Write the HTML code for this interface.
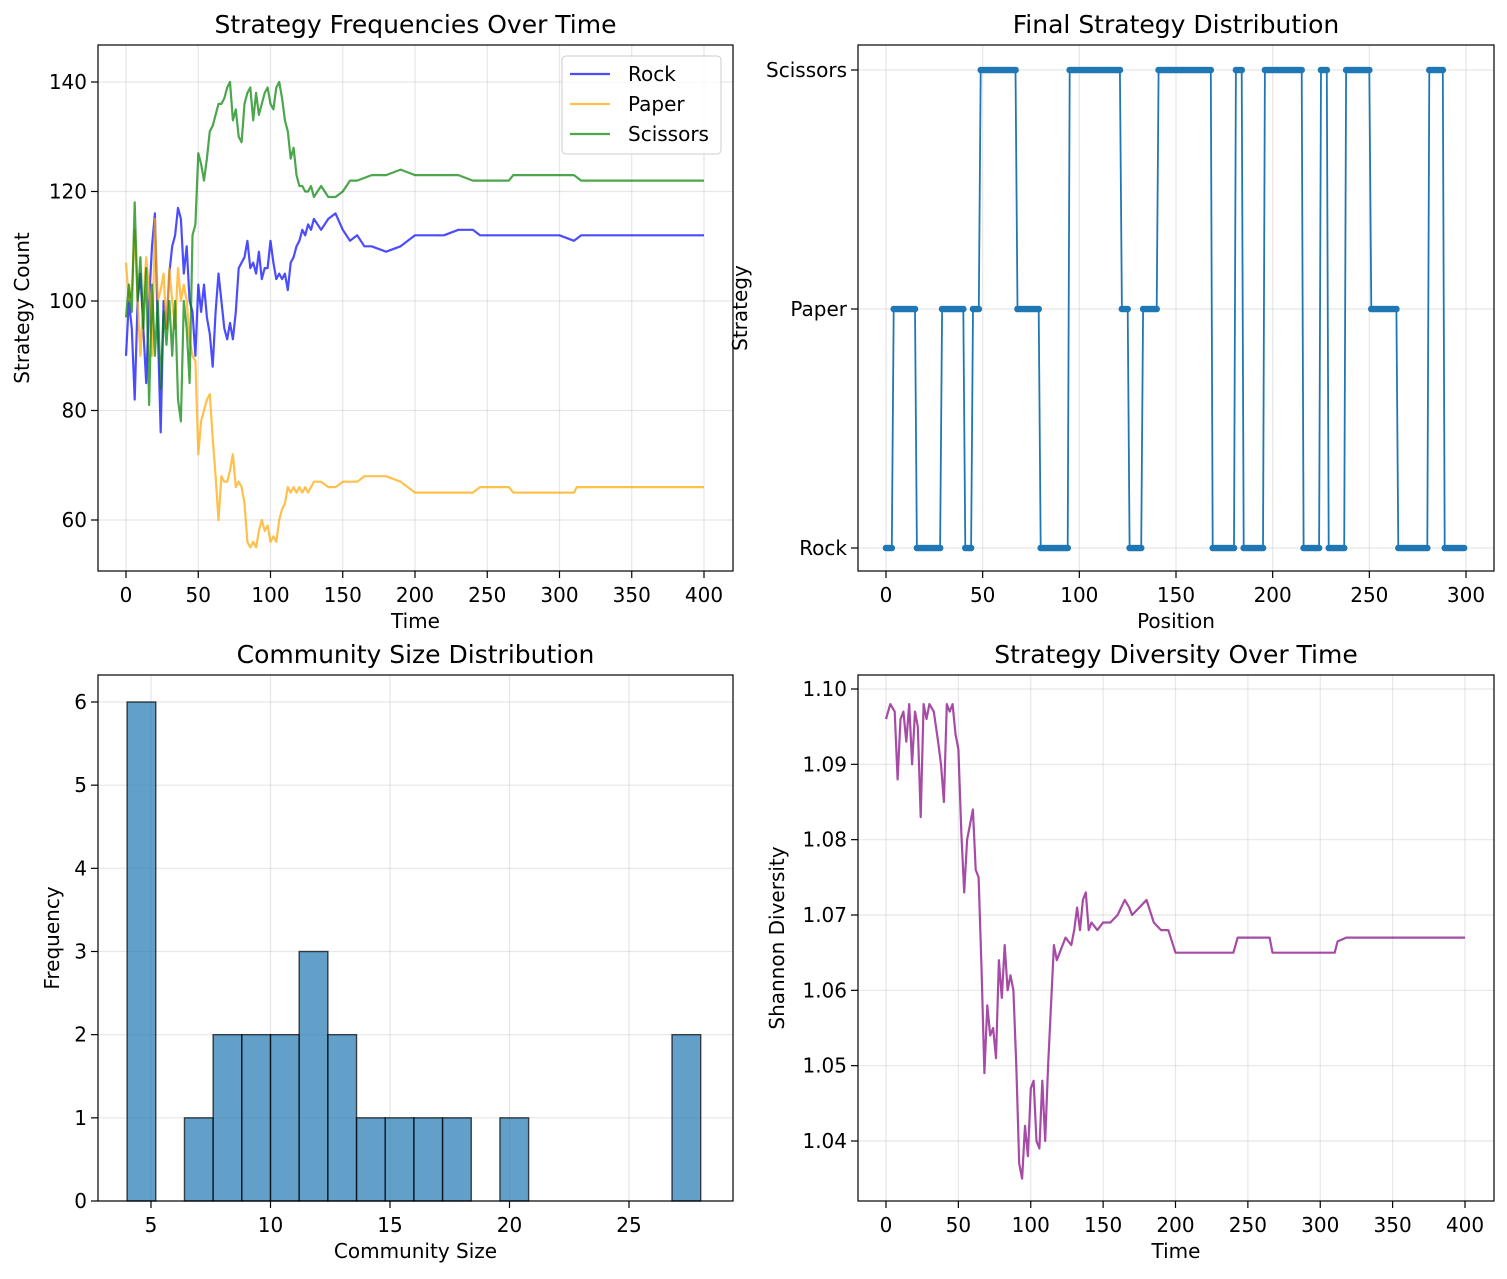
<!DOCTYPE html>
<html><head><meta charset="utf-8"><style>
body{margin:0;background:#fff;}
svg{display:block;font-family:"DejaVu Sans","Liberation Sans",sans-serif;}
</style></head><body>
<svg id="fig" width="1507" height="1279" viewBox="0 0 1507 1279" xmlns="http://www.w3.org/2000/svg"></svg>
<script>
// ---- Data: Strategy frequencies ----
const freqTimes = [0,2,4,6,8,10,12,14,16,18,20,22,24,26,28,30,32,34,36,38,40,42,44,46,48,50,52,54,56,58,60,62,64,66,68,70,72,74,76,78,80,82,84,86,88,90,92,94,96,98,100,102,104,106,108,110,112,114,116,118,120,122,124,126,128,130];
const rockHead = [90,100,95,82,100,105,95,85,100,110,116,95,76,100,95,105,110,112,117,115,105,110,100,98,90,103,98,103,97,94,88,98,105,100,95,93,96,93,98,106,107,108,111,106,107,105,109,104,106,106,111,107,104,105,104,105,102,107,108,110,111,113,112,114,113,115];
const scissorsHead = [97,103,98,118,100,108,95,106,81,103,90,100,84,98,92,100,90,100,82,78,100,95,85,112,114,127,125,122,126,131,132,134,136,136,137,139,140,133,135,130,129,136,138,139,133,138,134,136,138,139,136,135,139,140,137,133,131,126,128,123,121,121,120,120,121,119];
const paperHead = [107,100,102,113,100,90,100,108,102,90,115,100,102,105,95,106,100,95,106,100,103,100,93,90,89,72,78,80,82,83,75,68,60,68,67,67,69,72,66,67,66,63,56,55,56,55,58,60,58,59,56,57,56,60,62,63,66,65,66,65,66,65,66,65,66,67];
const rockTailT = [135,140,145,150,155,160,165,170,180,190,200,210,220,230,240,245,300,310,315,400];
const rockTail = [113,115,116,113,111,112,110,110,109,110,112,112,112,113,113,112,112,111,112,112];
const scissorsTailT = [135,140,145,150,155,160,170,180,190,200,210,220,230,240,265,268,310,315,400];
const scissorsTail = [121,119,119,120,122,122,123,123,124,123,123,123,123,122,122,123,123,122,122];
const paperTailT = [135,140,145,150,155,160,165,170,180,190,195,200,240,245,265,268,310,312,400];
const paperTail = [67,66,66,67,67,67,68,68,68,67,66,65,65,66,66,65,65,66,66];
// ---- Data: final strategy (run-length) ----
const strategyLabels = ["Rock","Paper","Scissors"];
const runValues = [0,1,0,1,0,1,2,1,0,2,1,0,1,2,0,2,0,2,0,2,0,2,1,0,2,0];
const runLengths = [4,12,13,12,4,4,19,12,15,27,4,7,8,28,12,4,11,20,9,4,9,13,14,16,8,11];
// ---- Data: histogram ----
const histCounts = [6,0,1,2,2,2,3,2,1,1,1,1,0,1,0,0,0,0,0,2];
const histMin = 4, histMax = 28;
// ---- Data: diversity ----
const divTimes = [0,3,6,8,10,12,14,16,18,20,22,24,26,28,30,33,36,38,40,42,44,46,48,50,52,54,56,58,60,62,64,66,68,70,72,74,76,78,80,82,84,86,88,90,92,94,96,98,100,102,104,106,108,110,112,114,116,118,120,124,128,130,132,134,136,138,140,142,146,150,155,160,165,168,170,175,180,185,190,195,200,210,220,240,243,265,267,310,312,318,400];
const divValues = [1.096,1.098,1.097,1.088,1.096,1.097,1.093,1.098,1.090,1.097,1.095,1.083,1.098,1.096,1.098,1.097,1.093,1.090,1.085,1.098,1.097,1.098,1.094,1.092,1.081,1.073,1.080,1.082,1.084,1.076,1.075,1.063,1.049,1.058,1.054,1.055,1.051,1.064,1.059,1.066,1.060,1.062,1.060,1.050,1.037,1.035,1.042,1.038,1.047,1.048,1.040,1.039,1.048,1.040,1.050,1.058,1.066,1.064,1.065,1.067,1.066,1.068,1.071,1.068,1.072,1.073,1.068,1.069,1.068,1.069,1.069,1.070,1.072,1.071,1.070,1.071,1.072,1.069,1.068,1.068,1.065,1.065,1.065,1.065,1.067,1.067,1.065,1.065,1.0665,1.067,1.067];

const NS="http://www.w3.org/2000/svg";
const fig=document.getElementById('fig');
const TICK_FS=20, LABEL_FS=20, TITLE_FS=25;
function el(tag,attrs,parent,text){const e=document.createElementNS(NS,tag);for(const k in attrs)e.setAttribute(k,attrs[k]);if(text!==undefined)e.textContent=text;(parent||fig).appendChild(e);return e;}
function lin(d0,d1,r0,r1){return v=>r0+(v-d0)*(r1-r0)/(d1-d0);}

function makeAxes(o){
  const g=el('g',{});
  
  
  const {L,T,R,B}=o;
  o.xt.forEach(t=>{const x=o.sx(t);const l=el('line',{x1:x,x2:x,y1:T,y2:B,stroke:'#b0b0b0','stroke-opacity':0.3,'stroke-width':1.2},g);});
  o.yt.forEach(t=>{const y=o.sy(t);const l=el('line',{x1:L,x2:R,y1:y,y2:y,stroke:'#b0b0b0','stroke-opacity':0.3,'stroke-width':1.2},g);});
  o.xt.forEach((t,i)=>{const x=o.sx(t);el('line',{x1:x,x2:x,y1:B,y2:B+7,stroke:'#000','stroke-width':1.2},g);const tx=el('text',{x:x,y:B+31,'font-size':TICK_FS,'text-anchor':'middle',fill:'#000'},g,o.xl?o.xl[i]:String(t));});
  o.yt.forEach((t,i)=>{const y=o.sy(t);el('line',{x1:L-7,x2:L,y1:y,y2:y,stroke:'#000','stroke-width':1.2},g);const tx=el('text',{x:L-11,y:y+7,'font-size':TICK_FS,'text-anchor':'end',fill:'#000'},g,o.yl?o.yl[i]:String(t));});
  const ti=el('text',{x:(L+R)/2,y:T-12,'font-size':TITLE_FS,'text-anchor':'middle'},g,o.title);
  const xa=el('text',{x:(L+R)/2,y:B+57,'font-size':LABEL_FS,'text-anchor':'middle'},g,o.xlabel);
  const ya=el('text',{x:o.ylx,y:(T+B)/2,'font-size':LABEL_FS,'text-anchor':'middle',transform:`rotate(-90 ${o.ylx} ${(T+B)/2})`},g,o.ylabel);
  const plot=el('g',{},g);
  return {g,plot};
}
function frame(o,g){el('rect',{x:o.L,y:o.T,width:o.R-o.L,height:o.B-o.T,fill:'none',stroke:'#000','stroke-width':1.2},g);}
function poly(g,xs,ys,sx,sy,color,op,name,w){
  const pts=xs.map((x,i)=>sx(x).toFixed(1)+','+sy(ys[i]).toFixed(1)).join(' ');
  const p=el('polyline',{points:pts,fill:'none',stroke:color,'stroke-opacity':op,'stroke-width':w||2.2,'stroke-linejoin':'round'},g);
  return p;
}

// ---- Axes 1 ----
{
  const o={L:98,T:45,R:733,B:571,name:'strategy-frequencies-chart',title:'Strategy Frequencies Over Time',xlabel:'Time',ylabel:'Strategy Count',ylx:29};
  o.sx=lin(0,400,126,704);o.sy=lin(60,140,520,82);
  o.xt=[0,50,100,150,200,250,300,350,400];o.yt=[60,80,100,120,140];
  const {g,plot}=makeAxes(o);
  const cat=(a,b)=>a.concat(b);
  poly(plot,cat(freqTimes,rockTailT),cat(rockHead,rockTail),o.sx,o.sy,'#0000ff',0.7,'rock-line');
  poly(plot,cat(freqTimes,paperTailT),cat(paperHead,paperTail),o.sx,o.sy,'#ffa500',0.7,'paper-line');
  poly(plot,cat(freqTimes,scissorsTailT),cat(scissorsHead,scissorsTail),o.sx,o.sy,'#008000',0.7,'scissors-line');
  frame(o,g);
  const lg=el('g',{},g);
  el('rect',{x:562,y:56,width:159,height:98,rx:4,fill:'#fff','fill-opacity':0.8,stroke:'#ccc'},lg);
  [['Rock','#0000ff'],['Paper','#ffa500'],['Scissors','#008000']].forEach((d,i)=>{
    const y=74+i*30;
    const e=el('g',{},lg);
    el('line',{x1:570,x2:610,y1:y,y2:y,stroke:d[1],'stroke-opacity':0.7,'stroke-width':2.2},e);
    el('text',{x:628,y:y+7,'font-size':20},e,d[0]);
  });
}
// ---- Axes 2 ----
{
  const o={L:858,T:45,R:1494,B:571,name:'final-strategy-chart',title:'Final Strategy Distribution',xlabel:'Position',ylabel:'Strategy',ylx:747};
  o.sx=lin(0,300,886,1466);o.sy=lin(0,2,548,70);
  o.xt=[0,50,100,150,200,250,300];o.yt=[0,1,2];o.yl=strategyLabels;
  const {g,plot}=makeAxes(o);
  const xs=[],ys=[];runValues.forEach((v,i)=>{for(let k=0;k<runLengths[i];k++){xs.push(xs.length);ys.push(v);}});
  poly(plot,xs,ys,o.sx,o.sy,'#1f77b4',1,'strategy-line',1.8);
  xs.forEach((x,i)=>{const c=el('circle',{cx:o.sx(x),cy:o.sy(ys[i]),r:3.3,fill:'#1f77b4'},plot);});
  frame(o,g);
}
// ---- Axes 3 ----
{
  const o={L:98,T:675,R:733,B:1201,name:'community-size-chart',title:'Community Size Distribution',xlabel:'Community Size',ylabel:'Frequency',ylx:59};
  o.sx=lin(5,25,151,629);o.sy=lin(0,6,1201,702);
  o.xt=[5,10,15,20,25];o.yt=[0,1,2,3,4,5,6];
  const {g,plot}=makeAxes(o);
  const bw=(histMax-histMin)/histCounts.length;
  histCounts.forEach((c,i)=>{if(!c)return;const x0=o.sx(histMin+i*bw),x1=o.sx(histMin+(i+1)*bw);
    const r=el('rect',{x:x0,y:o.sy(c),width:x1-x0,height:o.sy(0)-o.sy(c),fill:'#1f77b4','fill-opacity':0.7,stroke:'#000','stroke-opacity':0.7,'stroke-width':1.4},plot);
    });
  frame(o,g);
}
// ---- Axes 4 ----
{
  const o={L:858,T:675,R:1494,B:1201,name:'diversity-chart',title:'Strategy Diversity Over Time',xlabel:'Time',ylabel:'Shannon Diversity',ylx:784};
  o.sx=lin(0,400,886,1465);o.sy=lin(1.04,1.10,1141,689);
  o.xt=[0,50,100,150,200,250,300,350,400];o.yt=[1.04,1.05,1.06,1.07,1.08,1.09,1.10];o.yl=o.yt.map(v=>v.toFixed(2));
  const {g,plot}=makeAxes(o);
  poly(plot,divTimes,divValues,o.sx,o.sy,'#800080',0.7,'diversity-line');
  frame(o,g);
}
</script>
</body></html>
